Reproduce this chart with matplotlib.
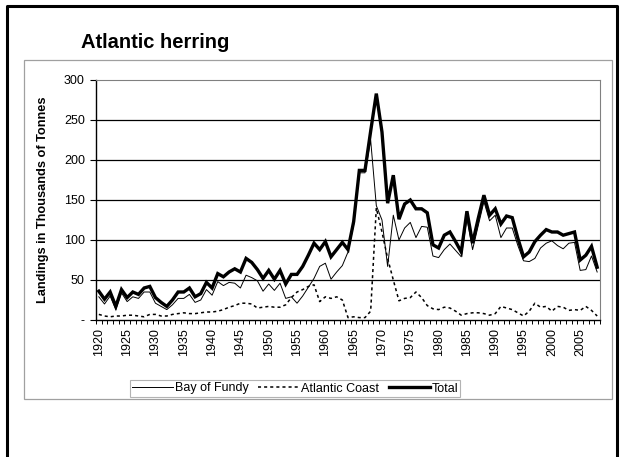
import numpy as np
import matplotlib
matplotlib.use("Agg")
import matplotlib.pyplot as plt
from matplotlib.patches import Rectangle
from matplotlib.lines import Line2D

plt.rcParams['font.family'] = ['Liberation Sans', 'DejaVu Sans']

years = list(range(1920, 2009))

bay_of_fundy = [29, 20, 30, 13, 34, 23, 29, 27, 35, 35,
                21, 17, 13, 19, 27, 27, 32, 22, 25, 38,
                31, 48, 43, 47, 46, 40, 56, 53, 49, 36,
                45, 37, 46, 27, 29, 21, 30, 41, 52, 67,
                71, 51, 60, 68, 85, 119, 184, 184, 225, 143,
                125, 67, 131, 100, 115, 122, 103, 117, 116, 80,
                78, 88, 95, 87, 79, 127, 88, 118, 148, 124,
                131, 103, 115, 115, 93, 74, 73, 77, 90, 96,
                99, 93, 89, 96, 97, 62, 63, 80, 60]

atlantic_coast = [7, 5, 4, 5, 5, 6, 6, 5, 4, 7,
                  7, 5, 5, 7, 8, 9, 8, 8, 9, 10,
                  10, 11, 13, 16, 18, 21, 21, 20, 15, 16,
                  17, 16, 16, 19, 28, 35, 38, 42, 44, 23,
                  29, 27, 29, 25, 3, 4, 3, 3, 11, 140,
                  110, 77, 50, 24, 27, 28, 35, 28, 18, 14,
                  13, 16, 15, 11, 6, 8, 9, 9, 8, 6,
                  8, 17, 15, 13, 9, 5, 11, 21, 16, 17,
                  11, 17, 16, 12, 13, 12, 17, 12, 5]

total = [36, 26, 35, 17, 38, 28, 35, 32, 40, 42,
         28, 22, 17, 25, 35, 35, 40, 29, 33, 47,
         40, 58, 54, 60, 64, 60, 77, 72, 63, 52,
         62, 51, 62, 45, 57, 57, 67, 81, 96, 88,
         98, 79, 88, 97, 88, 123, 187, 187, 236, 283,
         235, 146, 181, 126, 145, 150, 139, 139, 134, 94,
         90, 106, 110, 98, 85, 136, 96, 127, 156, 131,
         139, 120, 130, 128, 102, 79, 85, 98, 106, 113,
         110, 110, 106, 108, 110, 75, 81, 92, 66]

y_ticks = [0, 50, 100, 150, 200, 250, 300]
y_tick_labels = ['-', '50', '100', '150', '200', '250', '300']

fig = plt.figure(figsize=(6.26, 4.57), dpi=100)
W, H = 626.0, 457.0

# outer frame (left, top, right) and chart area box
fig.add_artist(Line2D([7/W, 7/W, 617/W, 617/W], [0, 1-5.5/H, 1-5.5/H, 0],
                      transform=fig.transFigure, color='black', lw=2.2))
fig.add_artist(Rectangle((24/W, 1-399/H), (612-24)/W, (399-60)/H,
                         transform=fig.transFigure, fill=False,
                         edgecolor='#a0a0a0', lw=0.9))

ax = fig.add_axes([96/W, 1-320/H, 504/W, 240/H])
x = np.arange(len(years))

ax.plot(x, bay_of_fundy, color='black', lw=0.7, label='Bay of Fundy')
ax.plot(x, atlantic_coast, color='black', lw=1.1, linestyle=(0, (2, 2)),
        label='Atlantic Coast')
ax.plot(x, total, color='black', lw=2.4, solid_joinstyle='miter',
        label='Total')

ax.set_xlim(-0.5, len(years) - 0.5)
ax.set_ylim(0, 300)
ax.set_yticks(y_ticks)
ax.set_yticklabels(y_tick_labels, fontsize=9)
for v in y_ticks[1:-1]:
    ax.axhline(v, color='black', lw=0.9, zorder=0)

lab_pos = [i for i, yr in enumerate(years) if yr % 5 == 0]
ax.set_xticks(lab_pos)
ax.set_xticklabels([str(years[i]) for i in lab_pos], rotation=90, fontsize=9)
ax.set_xticks(np.arange(-0.5, len(years)), minor=True)
ax.tick_params(axis='x', which='major', length=0, pad=6)
ax.tick_params(axis='x', which='minor', length=3, width=0.7, direction='out')
ax.tick_params(axis='y', length=4, width=0.8, pad=4)

ax.spines['left'].set_linewidth(1.0)
ax.spines['bottom'].set_linewidth(1.0)
ax.spines['top'].set_color('#808080')
ax.spines['right'].set_color('#808080')

ax.set_ylabel('Landings in Thousands of Tonnes', fontsize=9.2,
              fontweight='bold', labelpad=11)

fig.text(81/W, 1-43/H, 'Atlantic herring', fontsize=14.5, fontweight='bold',
         ha='left', va='center')

leg = fig.legend(loc='center', bbox_to_anchor=(295/W, 1-388.5/H), ncol=3,
                 fontsize=9, frameon=True, fancybox=False, borderpad=0.2,
                 handlelength=3.3, handletextpad=0.1, columnspacing=0.8)
leg.get_frame().set_edgecolor('#a0a0a0')
leg.get_frame().set_linewidth(0.8)

fig.savefig('out.png', dpi=100)
